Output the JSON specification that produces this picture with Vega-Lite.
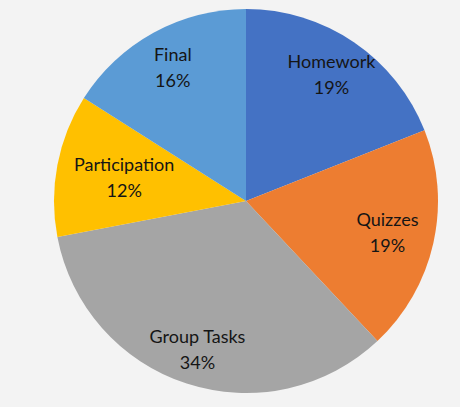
{
  "$schema": "https://vega.github.io/schema/vega-lite/v6.json",
  "width": 384,
  "height": 384,
  "padding": {"left": 54, "top": 9, "right": 22, "bottom": 14},
  "autosize": {"type": "none"},
  "background": "#f3f3f3",
  "config": {"view": {"stroke": null}},
  "data": {
    "values": [
      {"category": "Homework", "value": 19, "order": 1},
      {"category": "Quizzes", "value": 19, "order": 2},
      {"category": "Group Tasks", "value": 34, "order": 3},
      {"category": "Participation", "value": 12, "order": 4},
      {"category": "Final", "value": 16, "order": 5}
    ]
  },
  "transform": [
    {"calculate": "[datum.category, datum.value + '%']", "as": "label"},
    {"stack": "value", "groupby": [], "sort": [{"field": "order", "order": "ascending"}], "as": ["v0", "v1"]},
    {"calculate": "(datum.v0 + datum.v1) / 2", "as": "mid"}
  ],
  "layer": [
    {
      "mark": {"type": "arc", "stroke": null},
      "encoding": {
        "theta": {"field": "v0", "type": "quantitative", "scale": {"domain": [0, 100]}},
        "theta2": {"field": "v1"},
        "color": {
          "field": "category",
          "type": "nominal",
          "scale": {
            "domain": ["Homework", "Quizzes", "Group Tasks", "Participation", "Final"],
            "range": ["#4472C4", "#ED7D31", "#A5A5A5", "#FFC000", "#5B9BD5"]
          },
          "legend": null
        }
      }
    },
    {
      "mark": {"type": "text", "font": "Lato", "fontSize": 18, "lineHeight": 26, "baseline": "middle", "align": "center", "dy": -12},
      "transform": [{"filter": "datum.category === 'Homework' || datum.category === 'Final'"}],
      "encoding": {
        "theta": {"field": "mid", "type": "quantitative", "stack": null, "scale": {"domain": [0, 100]}},
        "text": {"field": "label"},
        "color": {"value": "#151515"},
        "radius": {"value": 152}
      }
    },
    {
      "mark": {"type": "text", "font": "Lato", "fontSize": 18, "lineHeight": 26, "baseline": "middle", "align": "center", "dy": -12},
      "transform": [{"filter": "datum.category === 'Quizzes'"}],
      "encoding": {
        "theta": {"field": "mid", "type": "quantitative", "stack": null, "scale": {"domain": [0, 100]}},
        "text": {"field": "label"},
        "color": {"value": "#151515"},
        "radius": {"value": 145}
      }
    },
    {
      "mark": {"type": "text", "font": "Lato", "fontSize": 18, "lineHeight": 26, "baseline": "middle", "align": "center", "dy": -12},
      "transform": [{"filter": "datum.category === 'Group Tasks'"}],
      "encoding": {
        "theta": {"field": "mid", "type": "quantitative", "stack": null, "scale": {"domain": [0, 100]}},
        "text": {"field": "label"},
        "color": {"value": "#151515"},
        "radius": {"value": 157}
      }
    },
    {
      "mark": {"type": "text", "font": "Lato", "fontSize": 18, "lineHeight": 26, "baseline": "middle", "align": "center", "dy": -12},
      "transform": [{"filter": "datum.category === 'Participation'"}],
      "encoding": {
        "theta": {"field": "mid", "type": "quantitative", "stack": null, "scale": {"domain": [0, 100]}},
        "text": {"field": "label"},
        "color": {"value": "#151515"},
        "radius": {"value": 124}
      }
    }
  ]
}
